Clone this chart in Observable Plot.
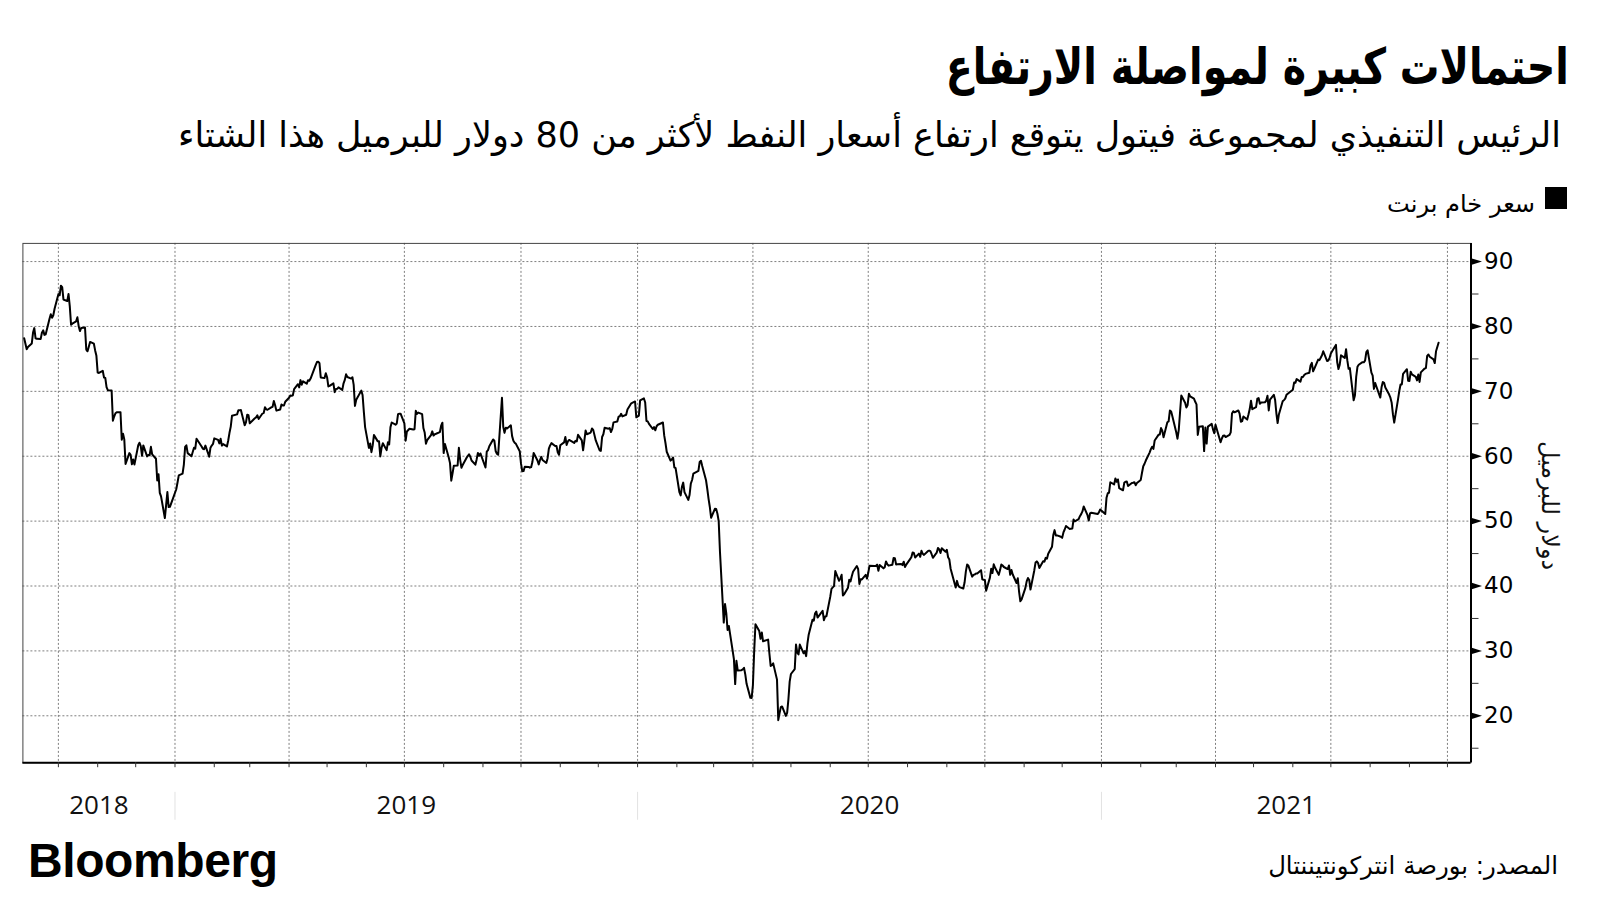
<!DOCTYPE html>
<html><head><meta charset="utf-8">
<script src="https://cdn.jsdelivr.net/npm/d3@7"></script>
<script src="https://cdn.jsdelivr.net/npm/@observablehq/plot@0.6"></script>
<style>
html,body{margin:0;padding:0;background:#fff;width:1600px;height:900px;overflow:hidden;position:relative}
.t{position:absolute;white-space:nowrap;direction:rtl;font-family:"DejaVu Sans",sans-serif;color:#000;line-height:1}
#chart{position:absolute;left:0;top:225px}
#sq{position:absolute;left:1545px;top:187px;width:22px;height:22px;background:#000}
#bb{position:absolute;left:28px;font-family:"Liberation Sans",Arial,sans-serif;font-weight:bold;font-size:48px;line-height:1;letter-spacing:-0.4px;white-space:nowrap}
</style></head><body>
<div id="title" class="t" style="font-weight:bold">احتمالات كبيرة لمواصلة الارتفاع</div>
<div id="sub" class="t">الرئيس التنفيذي لمجموعة فيتول يتوقع ارتفاع أسعار النفط لأكثر من 80 دولار للبرميل هذا الشتاء</div>
<div id="sq"></div>
<div id="leg" class="t">سعر خام برنت</div>
<div id="chart"></div>
<div id="src" class="t">المصدر: بورصة انتركونتيننتال</div>
<div id="bb">Bloomberg</div>
<script>
const dates2018 = ["2018-09-04","2018-09-06","2018-09-07","2018-09-10","2018-09-11","2018-09-12","2018-09-13","2018-09-14","2018-09-17","2018-09-18","2018-09-19","2018-09-20","2018-09-21","2018-09-24","2018-09-25","2018-09-26","2018-09-27","2018-09-28","2018-10-01","2018-10-02","2018-10-03","2018-10-04","2018-10-05","2018-10-08","2018-10-09","2018-10-10","2018-10-11","2018-10-12","2018-10-15","2018-10-16","2018-10-17","2018-10-18","2018-10-19","2018-10-22","2018-10-23","2018-10-24","2018-10-25","2018-10-26","2018-10-29","2018-10-30","2018-10-31","2018-11-01","2018-11-02","2018-11-05","2018-11-06","2018-11-07","2018-11-08","2018-11-09","2018-11-12","2018-11-13","2018-11-14","2018-11-15","2018-11-16","2018-11-19","2018-11-20","2018-11-21","2018-11-22","2018-11-23","2018-11-26","2018-11-27","2018-11-28","2018-11-29","2018-11-30","2018-12-03","2018-12-04","2018-12-05","2018-12-06","2018-12-07","2018-12-10","2018-12-11","2018-12-12","2018-12-13","2018-12-14","2018-12-17","2018-12-18","2018-12-19","2018-12-20","2018-12-21","2018-12-24","2018-12-26","2018-12-27","2018-12-28","2018-12-31"];
const brent2018 = [78.17,76.5,76.83,77.37,79.06,79.74,78.18,78.09,78.05,79.03,79.4,78.7,78.8,81.2,81.87,81.34,81.72,82.72,84.98,84.8,86.29,86.07,84.16,83.91,85.0,83.09,80.26,80.43,80.78,81.41,80.05,79.29,79.78,79.83,76.44,76.17,76.89,77.62,77.34,76.31,75.47,72.89,72.83,73.17,72.13,72.07,70.65,70.18,70.12,65.47,66.12,66.62,66.76,66.79,62.53,63.48,62.6,58.8,60.48,60.21,58.76,59.51,58.71,61.69,62.08,61.56,60.06,61.67,59.97,60.2,60.15,61.45,60.28,59.61,56.26,57.24,54.35,53.82,50.47,54.47,52.16,52.2,53.8];

const dates2019 = ["2019-01-02","2019-01-03","2019-01-04","2019-01-07","2019-01-08","2019-01-09","2019-01-10","2019-01-11","2019-01-14","2019-01-15","2019-01-16","2019-01-17","2019-01-18","2019-01-22","2019-01-23","2019-01-24","2019-01-25","2019-01-28","2019-01-29","2019-01-30","2019-01-31","2019-02-01","2019-02-04","2019-02-05","2019-02-06","2019-02-07","2019-02-08","2019-02-11","2019-02-12","2019-02-13","2019-02-14","2019-02-15","2019-02-19","2019-02-20","2019-02-21","2019-02-22","2019-02-25","2019-02-26","2019-02-27","2019-02-28","2019-03-01","2019-03-04","2019-03-05","2019-03-06","2019-03-07","2019-03-08","2019-03-11","2019-03-12","2019-03-13","2019-03-14","2019-03-15","2019-03-18","2019-03-19","2019-03-20","2019-03-21","2019-03-22","2019-03-25","2019-03-26","2019-03-27","2019-03-28","2019-03-29","2019-04-01","2019-04-02","2019-04-03","2019-04-04","2019-04-05","2019-04-08","2019-04-09","2019-04-10","2019-04-11","2019-04-12","2019-04-15","2019-04-16","2019-04-17","2019-04-18","2019-04-22","2019-04-23","2019-04-24","2019-04-25","2019-04-26","2019-04-29","2019-04-30","2019-05-01","2019-05-02","2019-05-03","2019-05-06","2019-05-07","2019-05-08","2019-05-09","2019-05-10","2019-05-13","2019-05-14","2019-05-15","2019-05-16","2019-05-17","2019-05-20","2019-05-21","2019-05-22","2019-05-23","2019-05-24","2019-05-28","2019-05-29","2019-05-30","2019-05-31","2019-06-03","2019-06-04","2019-06-05","2019-06-06","2019-06-07","2019-06-10","2019-06-11","2019-06-12","2019-06-13","2019-06-14","2019-06-17","2019-06-18","2019-06-19","2019-06-20","2019-06-21","2019-06-24","2019-06-25","2019-06-26","2019-06-27","2019-06-28","2019-07-01","2019-07-02","2019-07-03","2019-07-05","2019-07-08","2019-07-09","2019-07-10","2019-07-11","2019-07-12","2019-07-15","2019-07-16","2019-07-17","2019-07-18","2019-07-19","2019-07-22","2019-07-23","2019-07-24","2019-07-25","2019-07-26","2019-07-29","2019-07-30","2019-07-31","2019-08-01","2019-08-02","2019-08-05","2019-08-06","2019-08-07","2019-08-08","2019-08-09","2019-08-12","2019-08-13","2019-08-14","2019-08-15","2019-08-16","2019-08-19","2019-08-20","2019-08-21","2019-08-22","2019-08-23","2019-08-26","2019-08-27","2019-08-28","2019-08-29","2019-08-30","2019-09-03","2019-09-04","2019-09-05","2019-09-06","2019-09-09","2019-09-10","2019-09-11","2019-09-12","2019-09-13","2019-09-16","2019-09-17","2019-09-18","2019-09-19","2019-09-20","2019-09-23","2019-09-24","2019-09-25","2019-09-26","2019-09-27","2019-09-30","2019-10-01","2019-10-02","2019-10-03","2019-10-04","2019-10-07","2019-10-08","2019-10-09","2019-10-10","2019-10-11","2019-10-14","2019-10-15","2019-10-16","2019-10-17","2019-10-18","2019-10-21","2019-10-22","2019-10-23","2019-10-24","2019-10-25","2019-10-28","2019-10-29","2019-10-30","2019-10-31","2019-11-01","2019-11-04","2019-11-05","2019-11-06","2019-11-07","2019-11-08","2019-11-11","2019-11-12","2019-11-13","2019-11-14","2019-11-15","2019-11-18","2019-11-19","2019-11-20","2019-11-21","2019-11-22","2019-11-25","2019-11-26","2019-11-27","2019-11-29","2019-12-02","2019-12-03","2019-12-04","2019-12-05","2019-12-06","2019-12-09","2019-12-10","2019-12-11","2019-12-12","2019-12-13","2019-12-16","2019-12-17","2019-12-18","2019-12-19","2019-12-20","2019-12-23","2019-12-24","2019-12-27","2019-12-30","2019-12-31"];
const brent2019 = [54.91,55.95,57.06,57.33,58.72,61.44,61.68,60.48,59.99,60.64,61.32,61.18,62.7,61.5,61.14,61.09,61.64,59.93,61.32,61.65,61.89,62.75,62.51,61.98,62.69,61.63,61.87,61.51,62.42,63.61,64.57,66.25,66.45,67.08,67.07,67.12,64.76,65.21,66.39,66.31,65.07,65.67,65.86,65.99,66.3,65.74,66.58,66.67,67.55,67.23,67.16,67.54,67.61,68.5,67.86,67.03,67.21,67.97,67.83,67.82,68.39,69.01,69.37,69.31,69.4,70.34,71.1,70.61,71.73,71.02,71.55,71.18,71.72,71.62,71.97,74.04,74.51,74.57,74.35,72.15,72.04,72.8,72.18,70.75,70.85,71.24,69.88,70.37,70.39,70.62,70.23,71.24,71.77,72.62,72.21,71.97,72.18,70.99,67.76,68.69,70.11,69.45,66.87,64.49,61.28,61.97,60.63,61.67,63.29,62.29,62.29,59.97,61.31,62.01,60.94,62.14,61.82,64.45,65.2,64.86,65.05,66.49,66.55,66.55,65.06,62.4,63.82,64.23,64.11,64.16,67.01,66.52,66.72,66.48,64.35,63.66,61.93,62.47,63.26,63.83,63.18,63.39,63.46,63.71,64.72,65.17,60.5,61.89,59.81,58.94,56.23,57.38,58.53,58.57,61.3,59.48,58.23,58.64,59.74,60.03,60.3,59.92,59.34,58.7,59.51,60.49,60.08,60.43,58.26,60.7,60.95,61.54,62.59,62.38,60.81,60.38,60.22,69.02,64.55,63.6,64.4,64.28,64.77,63.1,62.39,62.08,61.91,60.78,58.89,57.69,57.71,58.37,58.35,58.24,58.32,59.1,60.51,59.35,58.74,59.42,59.91,59.42,58.96,59.7,61.17,61.67,62.02,61.57,61.59,60.61,60.23,61.69,62.13,62.96,61.74,62.29,62.51,62.18,62.06,62.37,62.28,63.3,62.44,60.91,62.4,63.97,63.39,63.65,64.27,64.06,62.43,60.92,60.82,62.96,63.39,64.39,64.25,64.34,63.72,64.2,65.22,65.34,66.1,66.17,66.54,66.14,66.39,67.2,68.16,68.44,66.0];

const dates2020 = ["2020-01-02","2020-01-03","2020-01-06","2020-01-07","2020-01-08","2020-01-09","2020-01-10","2020-01-13","2020-01-14","2020-01-15","2020-01-16","2020-01-17","2020-01-21","2020-01-22","2020-01-23","2020-01-24","2020-01-27","2020-01-28","2020-01-29","2020-01-30","2020-01-31","2020-02-03","2020-02-04","2020-02-05","2020-02-06","2020-02-07","2020-02-10","2020-02-11","2020-02-12","2020-02-13","2020-02-14","2020-02-18","2020-02-19","2020-02-20","2020-02-21","2020-02-24","2020-02-25","2020-02-26","2020-02-27","2020-02-28","2020-03-02","2020-03-03","2020-03-04","2020-03-05","2020-03-06","2020-03-09","2020-03-10","2020-03-11","2020-03-12","2020-03-13","2020-03-16","2020-03-17","2020-03-18","2020-03-19","2020-03-20","2020-03-23","2020-03-24","2020-03-25","2020-03-26","2020-03-27","2020-03-30","2020-03-31","2020-04-01","2020-04-02","2020-04-03","2020-04-06","2020-04-07","2020-04-08","2020-04-09","2020-04-13","2020-04-14","2020-04-15","2020-04-16","2020-04-17","2020-04-20","2020-04-21","2020-04-22","2020-04-23","2020-04-24","2020-04-27","2020-04-28","2020-04-29","2020-04-30","2020-05-01","2020-05-04","2020-05-05","2020-05-06","2020-05-07","2020-05-08","2020-05-11","2020-05-12","2020-05-13","2020-05-14","2020-05-15","2020-05-18","2020-05-19","2020-05-20","2020-05-21","2020-05-22","2020-05-26","2020-05-27","2020-05-28","2020-05-29","2020-06-01","2020-06-02","2020-06-03","2020-06-04","2020-06-05","2020-06-08","2020-06-09","2020-06-10","2020-06-11","2020-06-12","2020-06-15","2020-06-16","2020-06-17","2020-06-18","2020-06-19","2020-06-22","2020-06-23","2020-06-24","2020-06-25","2020-06-26","2020-06-29","2020-06-30","2020-07-01","2020-07-02","2020-07-06","2020-07-07","2020-07-08","2020-07-09","2020-07-10","2020-07-13","2020-07-14","2020-07-15","2020-07-16","2020-07-17","2020-07-20","2020-07-21","2020-07-22","2020-07-23","2020-07-24","2020-07-27","2020-07-28","2020-07-29","2020-07-30","2020-07-31","2020-08-03","2020-08-04","2020-08-05","2020-08-06","2020-08-07","2020-08-10","2020-08-11","2020-08-12","2020-08-13","2020-08-14","2020-08-17","2020-08-18","2020-08-19","2020-08-20","2020-08-21","2020-08-24","2020-08-25","2020-08-26","2020-08-27","2020-08-28","2020-08-31","2020-09-01","2020-09-02","2020-09-03","2020-09-04","2020-09-08","2020-09-09","2020-09-10","2020-09-11","2020-09-14","2020-09-15","2020-09-16","2020-09-17","2020-09-18","2020-09-21","2020-09-22","2020-09-23","2020-09-24","2020-09-25","2020-09-28","2020-09-29","2020-09-30","2020-10-01","2020-10-02","2020-10-05","2020-10-06","2020-10-07","2020-10-08","2020-10-09","2020-10-12","2020-10-13","2020-10-14","2020-10-15","2020-10-16","2020-10-19","2020-10-20","2020-10-21","2020-10-22","2020-10-23","2020-10-26","2020-10-27","2020-10-28","2020-10-29","2020-10-30","2020-11-02","2020-11-03","2020-11-04","2020-11-05","2020-11-06","2020-11-09","2020-11-10","2020-11-11","2020-11-12","2020-11-13","2020-11-16","2020-11-17","2020-11-18","2020-11-19","2020-11-20","2020-11-23","2020-11-24","2020-11-25","2020-11-26","2020-11-27","2020-11-30","2020-12-01","2020-12-02","2020-12-03","2020-12-04","2020-12-07","2020-12-08","2020-12-09","2020-12-10","2020-12-11","2020-12-14","2020-12-15","2020-12-16","2020-12-17","2020-12-18","2020-12-21","2020-12-22","2020-12-23","2020-12-24","2020-12-29","2020-12-30","2020-12-31"];
const brent2020 = [66.25,68.6,68.91,68.27,65.44,65.37,64.98,64.2,64.49,64.0,64.62,64.85,65.2,63.21,62.04,60.69,59.32,59.51,59.81,58.29,58.16,54.45,53.96,55.28,55.93,54.47,53.27,54.01,55.79,56.34,57.32,57.75,59.12,59.31,58.5,56.3,54.95,53.43,52.18,50.52,51.9,51.86,51.13,49.99,45.27,34.36,37.22,35.79,33.22,33.85,30.05,28.73,24.88,28.47,26.98,27.03,27.15,27.39,26.34,24.93,22.76,22.74,24.74,29.94,34.11,33.05,31.87,32.84,31.48,31.74,29.6,27.69,27.82,28.08,25.57,19.33,20.37,21.33,21.44,19.99,20.46,22.54,25.27,26.44,27.2,30.97,29.72,29.46,30.97,29.63,29.98,29.19,31.13,32.5,34.81,34.65,35.75,36.06,35.13,36.17,34.74,35.29,35.33,38.32,39.57,39.79,39.99,42.3,40.8,41.18,41.73,38.55,38.73,39.72,40.96,40.71,41.51,42.19,43.08,42.63,40.31,41.05,41.02,41.71,41.15,42.03,43.14,43.1,43.08,43.29,42.35,43.24,42.72,42.9,43.79,43.37,43.14,43.28,44.32,44.29,43.31,43.34,43.41,43.22,43.75,42.94,43.3,44.15,44.43,45.17,45.09,44.4,44.99,44.5,45.43,44.96,44.8,45.37,45.46,45.37,44.9,44.35,45.13,45.86,45.64,45.09,45.81,45.28,45.58,44.43,44.07,42.66,39.78,40.79,40.06,39.83,39.61,40.53,42.22,43.3,43.15,41.44,41.72,41.77,41.94,41.92,42.43,41.03,40.95,40.93,39.27,41.29,42.65,41.99,43.34,42.85,41.72,42.45,43.32,43.16,42.93,42.62,43.16,41.73,42.46,41.77,40.46,41.2,39.12,37.65,37.94,39.71,40.71,41.23,40.93,39.45,42.4,43.61,43.8,43.53,42.78,43.82,43.75,44.34,44.2,44.96,46.06,47.86,48.61,47.8,47.8,47.59,47.42,48.25,48.71,49.25,48.79,48.84,48.86,50.25,49.97,50.29,50.76,51.08,51.5,52.26,50.91,50.08,51.2,51.29,51.09,51.34,51.8];

const dates2021 = ["2021-01-04","2021-01-05","2021-01-06","2021-01-07","2021-01-08","2021-01-11","2021-01-12","2021-01-13","2021-01-14","2021-01-15","2021-01-18","2021-01-19","2021-01-20","2021-01-21","2021-01-22","2021-01-25","2021-01-26","2021-01-27","2021-01-28","2021-01-29","2021-02-01","2021-02-02","2021-02-03","2021-02-04","2021-02-05","2021-02-08","2021-02-09","2021-02-10","2021-02-11","2021-02-12","2021-02-15","2021-02-16","2021-02-17","2021-02-18","2021-02-19","2021-02-22","2021-02-23","2021-02-24","2021-02-25","2021-02-26","2021-03-01","2021-03-02","2021-03-03","2021-03-04","2021-03-05","2021-03-08","2021-03-09","2021-03-10","2021-03-11","2021-03-12","2021-03-15","2021-03-16","2021-03-17","2021-03-18","2021-03-19","2021-03-22","2021-03-23","2021-03-24","2021-03-25","2021-03-26","2021-03-29","2021-03-30","2021-03-31","2021-04-01","2021-04-05","2021-04-06","2021-04-07","2021-04-08","2021-04-09","2021-04-12","2021-04-13","2021-04-14","2021-04-15","2021-04-16","2021-04-19","2021-04-20","2021-04-21","2021-04-22","2021-04-23","2021-04-26","2021-04-27","2021-04-28","2021-04-29","2021-04-30","2021-05-03","2021-05-04","2021-05-05","2021-05-06","2021-05-07","2021-05-10","2021-05-11","2021-05-12","2021-05-13","2021-05-14","2021-05-17","2021-05-18","2021-05-19","2021-05-20","2021-05-21","2021-05-24","2021-05-25","2021-05-26","2021-05-27","2021-05-28","2021-06-01","2021-06-02","2021-06-03","2021-06-04","2021-06-07","2021-06-08","2021-06-09","2021-06-10","2021-06-11","2021-06-14","2021-06-15","2021-06-16","2021-06-17","2021-06-18","2021-06-21","2021-06-22","2021-06-23","2021-06-24","2021-06-25","2021-06-28","2021-06-29","2021-06-30","2021-07-01","2021-07-02","2021-07-05","2021-07-06","2021-07-07","2021-07-08","2021-07-09","2021-07-12","2021-07-13","2021-07-14","2021-07-15","2021-07-16","2021-07-19","2021-07-20","2021-07-21","2021-07-22","2021-07-23","2021-07-26","2021-07-27","2021-07-28","2021-07-29","2021-07-30","2021-08-02","2021-08-03","2021-08-04","2021-08-05","2021-08-06","2021-08-09","2021-08-10","2021-08-11","2021-08-12","2021-08-13","2021-08-16","2021-08-17","2021-08-18","2021-08-19","2021-08-20","2021-08-23","2021-08-24","2021-08-25","2021-08-26","2021-08-27","2021-08-30","2021-08-31","2021-09-01","2021-09-02","2021-09-03","2021-09-06","2021-09-07","2021-09-08","2021-09-09","2021-09-10","2021-09-13","2021-09-14","2021-09-15","2021-09-16","2021-09-17","2021-09-20","2021-09-21","2021-09-22","2021-09-24"];
const brent2021 = [51.09,53.6,54.3,54.38,55.99,55.66,56.58,56.06,56.42,55.1,54.75,55.9,56.08,56.1,55.41,55.88,55.91,56.0,55.53,55.88,56.35,57.46,58.46,58.84,59.34,60.56,61.09,61.47,61.14,62.43,63.3,63.35,64.34,63.93,62.91,65.24,65.37,67.04,66.88,66.13,63.69,62.7,64.07,66.74,69.36,68.24,67.52,67.9,69.63,69.22,68.88,68.39,68.0,63.28,64.53,64.62,60.79,64.41,61.95,64.57,64.98,64.14,63.54,64.86,62.15,62.74,63.16,63.2,62.95,63.28,63.67,66.58,66.94,66.77,67.05,66.57,65.32,65.4,66.11,65.65,66.42,67.27,68.56,67.25,67.56,68.88,68.96,68.09,68.28,68.32,68.55,69.32,67.05,68.71,69.46,68.71,66.66,65.11,66.44,68.46,68.65,68.87,69.46,69.63,70.25,71.35,71.31,71.89,71.49,72.22,72.22,72.52,72.69,72.86,73.99,74.39,73.08,73.51,74.9,74.81,75.19,75.56,76.18,74.68,74.76,75.13,75.84,76.17,77.16,74.53,73.43,74.12,75.55,75.16,76.49,74.76,73.47,73.59,68.62,69.35,72.23,73.79,74.1,74.5,74.48,74.74,76.05,76.33,72.89,72.41,70.38,71.29,70.7,69.04,70.63,71.44,71.31,70.59,69.51,69.03,68.23,66.45,65.18,68.75,70.05,71.05,71.07,72.7,73.41,71.63,71.59,73.03,72.61,72.22,71.69,72.6,71.45,72.92,73.51,73.6,75.46,75.67,75.34,74.92,74.36,76.19,77.5];

const yTicks = [20, 30, 40, 50, 60, 70, 80, 90];
const yMinorTicks = [15, 25, 35, 45, 55, 65, 75, 85];
const yearLabels = ["2018", "2019", "2020", "2021"];
const yLabel = "دولار للبرميل";

const parse = d3.utcParse("%Y-%m-%d");
const allDates = [...dates2018, ...dates2019, ...dates2020, ...dates2021];
const allValues = [...brent2018, ...brent2019, ...brent2020, ...brent2021];
const data = allDates.map((d, i) => ({date: parse(d), value: allValues[i]}));

const x0 = new Date(Date.UTC(2018, 8, 3));
const x1 = new Date(Date.UTC(2021, 9, 19, 14));
const yDomain = [12.77, 92.8];
const quarters = d3.utcMonth.every(3).range(x0, x1);
const months = d3.utcMonth.range(x0, x1);
const yearStarts = d3.utcYear.range(x0, x1);
const yearMids = yearLabels.map(y => {
  const a = new Date(Date.UTC(+y, 0, 1)), b = new Date(Date.UTC(+y + 1, 0, 1));
  const s = a < x0 ? x0 : a, e = b > x1 ? x1 : b;
  return new Date((+s + +e) / 2);
});

const triRight = {
  draw(ctx, size) {
    const r = Math.sqrt(size / Math.PI);
    ctx.moveTo(-r, -r * 0.62);
    ctx.lineTo(r, 0);
    ctx.lineTo(-r, r * 0.62);
    ctx.closePath();
  }
};

const chart = Plot.plot({
  width: 1600,
  height: 610,
  marginTop: 17.9,
  marginBottom: 72.8,
  marginLeft: 22.4,
  marginRight: 129.5,
  style: {background: "transparent", overflow: "visible"},
  x: {type: "utc", domain: [x0, x1]},
  y: {domain: yDomain},
  marks: [
    Plot.ruleY(yTicks, {stroke: "#7f7f7f", strokeDasharray: "2,2", strokeWidth: 1}),
    Plot.ruleX(quarters, {stroke: "#7f7f7f", strokeDasharray: "2,2", strokeWidth: 1}),
    Plot.ruleX(yearStarts, {y1: 8.2, y2: 3.9, stroke: "#e2e2e2", strokeWidth: 1}),
    Plot.frame({stroke: "#444", strokeWidth: 1}),
    Plot.line(data, {x: "date", y: "value", stroke: "#000", strokeWidth: 2, strokeLinejoin: "round"}),
    Plot.ruleX([x1], {stroke: "#000", strokeWidth: 2}),
    Plot.ruleY([yDomain[0]], {stroke: "#000", strokeWidth: 2}),
    Plot.axisX({ticks: months, tickSize: 5, tickFormat: () => "", label: null, stroke: "#333"}),
    Plot.axisY({anchor: "right", ticks: yMinorTicks, tickSize: 7, tickFormat: () => "", label: null, stroke: "#333"}),
    Plot.axisY({anchor: "right", ticks: yTicks, tickSize: 0, tickPadding: 13, label: null,
      fontSize: 23, fontFamily: "DejaVu Sans", fill: "#000"}),
    Plot.dot(yTicks, {y: d => d, frameAnchor: "right", dx: 5.5, r: 5.5, symbol: triRight, fill: "#000", stroke: null}),
    Plot.text(yearLabels, {x: (d, i) => yearMids[i], frameAnchor: "bottom", lineAnchor: "middle", dy: 43, fontSize: 26,
      fontFamily: "Open Sans", fill: "#111"}),
    Plot.text([yLabel], {frameAnchor: "right", textAnchor: "middle", lineAnchor: "middle", dx: 79, dy: 2.5, rotate: 90, fontSize: 24,
      fontFamily: "DejaVu Sans", fill: "#111"})
  ]
});
document.getElementById("chart").appendChild(chart);

function fit(id, width, right, baseline) {
  const el = document.getElementById(id);
  el.style.right = (1600 - right) + "px";
  let fs = parseFloat(getComputedStyle(el).fontSize);
  const w = el.getBoundingClientRect().width;
  fs = fs * width / w;
  el.style.fontSize = fs + "px";
  el.style.top = (baseline - 0.846 * fs) + "px";
}
function fitScale(id, width, right, baseline, fs) {
  const el = document.getElementById(id);
  el.style.right = (1600 - right) + "px";
  el.style.fontSize = fs + "px";
  el.style.transform = "none";
  const w = el.getBoundingClientRect().width;
  el.style.transformOrigin = "100% 50%";
  el.style.transform = "scaleX(" + (width / w) + ")";
  el.style.top = (baseline - 0.846 * fs) + "px";
}
function layout() {
  fitScale("title", 623, 1569, 84, 50);
  fit("sub", 1383, 1561, 148);
  fit("leg", 148, 1535, 212);
  fit("src", 290, 1558, 875);
  document.getElementById("bb").style.top = (877.5 - 0.846 * 48) + "px";
}
document.getElementById("sub").style.fontSize = "30px";
document.getElementById("leg").style.fontSize = "24px";
document.getElementById("src").style.fontSize = "24px";
layout();
if (document.fonts && document.fonts.ready) document.fonts.ready.then(layout);
</script>
</body></html>
